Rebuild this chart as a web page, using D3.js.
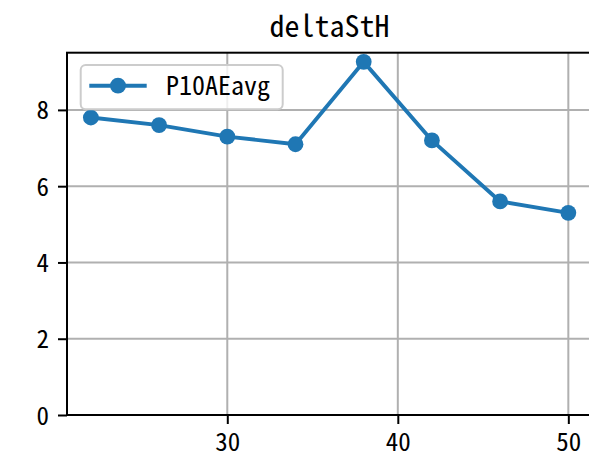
<!DOCTYPE html>
<html>
<head>
<meta charset="utf-8">
<script src="https://cdn.jsdelivr.net/npm/d3@7"></script>
<style>
  html, body { margin: 0; padding: 0; background: #fff; overflow: hidden; }
  svg { display: block; }
  text { font-family: "Noto Sans Mono CJK SC", "Noto Sans CJK SC", "DejaVu Sans Mono", monospace; fill: #000; }
</style>
</head>
<body>
<svg id="chart" width="589" height="459"></svg>
<script>
const title = "deltaStH";
const seriesName = "P10AEavg";
const xValues = [22, 26, 30, 34, 38, 42, 46, 50];
const yValues = [7.8, 7.6, 7.3, 7.1, 9.26, 7.2, 5.6, 5.3];
const xTicks = [30, 40, 50];
const yTicks = [0, 2, 4, 6, 8];
const xDomain = [20.6, 51.4];
const yDomain = [0, 9.5];

const svg = d3.select("#chart");
const pLeft = 67, pRight = 592.2, pTop = 52.7, pBottom = 415;
const color = "#1f77b4";

const x = d3.scaleLinear().domain(xDomain).range([pLeft, pRight]);
const y = d3.scaleLinear().domain(yDomain).range([pBottom, pTop]);

// grid
const grid = svg.append("g");
grid.selectAll(".gx").data(xTicks).enter().append("line")
  .attr("x1", d => x(d)).attr("x2", d => x(d))
  .attr("y1", pTop).attr("y2", pBottom)
  .attr("stroke", "#b0b0b0").attr("stroke-width", 2);
grid.selectAll(".gy").data(yTicks).enter().append("line")
  .attr("x1", pLeft).attr("x2", pRight)
  .attr("y1", d => y(d)).attr("y2", d => y(d))
  .attr("stroke", "#b0b0b0").attr("stroke-width", 2);

// axes
const xAxis = d3.axisBottom(x).tickValues(xTicks).tickSize(9).tickPadding(9).tickFormat(d3.format("d"));
const yAxis = d3.axisLeft(y).tickValues(yTicks).tickSize(9).tickPadding(9).tickFormat(d3.format("d"));

const gx = svg.append("g").attr("transform", `translate(0,${pBottom})`).call(xAxis);
const gy = svg.append("g").attr("transform", `translate(${pLeft},0)`).call(yAxis);
[gx, gy].forEach(g => {
  g.select(".domain").remove();
  g.selectAll(".tick line").attr("stroke", "#000").attr("stroke-width", 2);
  g.selectAll(".tick text").attr("font-size", 25).attr("fill", "#000")
    .style("font-family", "\"Noto Sans Mono CJK SC\", \"Noto Sans CJK SC\", \"DejaVu Sans Mono\", monospace");
});
gx.selectAll(".tick text").attr("dy", "0.71em");
gy.selectAll(".tick text").attr("dy", "0.36em");

// spines
svg.append("rect").attr("x", pLeft).attr("y", pTop)
  .attr("width", pRight - pLeft).attr("height", pBottom - pTop)
  .attr("fill", "none").attr("stroke", "#000").attr("stroke-width", 2);

// line
const line = d3.line().x((d, i) => x(xValues[i])).y(d => y(d));
svg.append("path").datum(yValues)
  .attr("d", line).attr("fill", "none")
  .attr("stroke", color).attr("stroke-width", 3.9)
  .attr("stroke-linejoin", "round").attr("stroke-linecap", "butt");
svg.selectAll(".pt").data(yValues).enter().append("circle")
  .attr("cx", (d, i) => x(xValues[i])).attr("cy", d => y(d))
  .attr("r", 7.9).attr("fill", color);

// title
svg.append("text").attr("x", (pLeft + pRight) / 2).attr("y", 36.7)
  .attr("text-anchor", "middle").attr("font-size", 30).text(title);

// legend
const lg = svg.append("g");
lg.append("rect").attr("x", 80.7).attr("y", 65).attr("width", 202).attr("height", 44.3)
  .attr("rx", 5).attr("fill", "#fff").attr("fill-opacity", 0.8)
  .attr("stroke", "#cccccc").attr("stroke-width", 2);
lg.append("line").attr("x1", 89.3).attr("x2", 146.7).attr("y1", 85.7).attr("y2", 85.7)
  .attr("stroke", color).attr("stroke-width", 3.9);
lg.append("circle").attr("cx", 118).attr("cy", 85.7).attr("r", 7.9).attr("fill", color);
lg.append("text").attr("x", 166).attr("y", 95).attr("font-size", 26).text(seriesName);
</script>
</body>
</html>
